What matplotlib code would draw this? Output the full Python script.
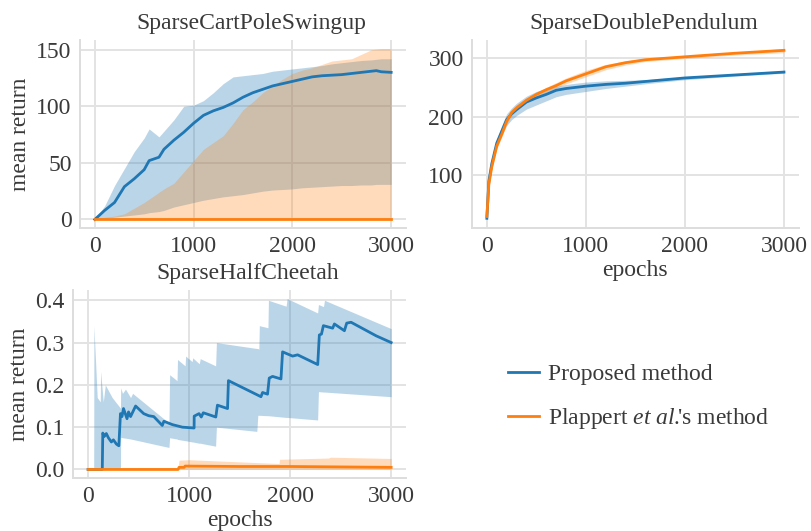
# learning curves, proposed method vs Plappert et al.
import numpy as np
import matplotlib
matplotlib.use('Agg')
import matplotlib.pyplot as plt

plt.rcParams['font.family'] = ['Liberation Serif', 'DejaVu Serif']
plt.rcParams['mathtext.fontset'] = 'custom'
plt.rcParams['mathtext.rm'] = 'Liberation Serif'
plt.rcParams['mathtext.it'] = 'Liberation Serif:italic'
plt.rcParams['font.size'] = 17
plt.rcParams['text.color'] = '#3a3a3a'
plt.rcParams['axes.labelcolor'] = '#3a3a3a'
plt.rcParams['xtick.color'] = '#3a3a3a'
plt.rcParams['ytick.color'] = '#3a3a3a'

BLUE = '#1f77b4'
ORANGE = '#ff7f0e'

# ---- SparseCartPoleSwingup ----
cp_x = [0, 100, 200, 300, 400, 500, 550, 650, 700, 800, 900, 1000, 1100, 1200, 1300,
        1400, 1500, 1600, 1700, 1800, 1900, 2000, 2100, 2200, 2300, 2400, 2500, 2600,
        2700, 2800, 2850, 2900, 3000]
cp_prop = [0, 8, 15, 29, 36, 44, 52, 55, 62, 70, 77, 85, 92, 96, 99,
           103, 108, 112, 115, 118, 120, 122, 124, 126, 127, 127.5, 128, 129,
           130, 131, 131.5, 130.5, 130]
cp_prop_lo = [0, 1, 2, 3, 4, 5, 6, 7, 8, 11, 13, 15, 17, 18.5, 20,
              21, 22, 23.5, 25, 26, 26.5, 27, 28, 28.5, 29, 29.5, 30, 30, 30.5,
              30.5, 31, 31, 31]
cp_prop_hi = [0, 12, 30, 45, 60, 72, 80, 73, 78, 88, 100, 101, 105, 112, 120,
              126, 127, 128, 129, 131, 132, 133, 134, 135, 136, 137.5, 138.5, 139.5,
              140.5, 141, 141.5, 142, 142]
cp_plap = [0] * len(cp_x)
cp_plap_lo = [0] * len(cp_x)
cp_plap_hi = [0, 2, 3, 5, 10, 15, 18, 24, 27, 32, 42, 52, 62, 68, 74,
              85, 97, 104, 112, 118, 124, 129, 132, 134, 137, 140, 141, 142,
              146, 150, 150.5, 151, 151]

# ---- SparseDoublePendulum ----
dp_x = [0, 20, 50, 100, 150, 200, 250, 300, 400, 500, 600, 700, 800, 1000, 1200,
        1400, 1600, 2000, 2500, 3000]
dp_prop = [27, 90, 120, 155, 175, 195, 205, 212, 225, 232, 238, 245, 248, 252, 255,
           257, 260, 266, 271, 276]
dp_prop_lo = [25, 82, 112, 148, 168, 185, 195, 202, 213, 220, 227, 234, 238, 243, 248,
              252, 256, 263, 269, 274]
dp_prop_hi = [29, 98, 128, 162, 185, 205, 215, 223, 235, 243, 248, 252, 255, 259, 261,
              262, 263, 268, 273, 278]
dp_plap = [30, 85, 115, 150, 170, 192, 207, 215, 228, 238, 246, 253, 261, 273, 285,
           292, 297, 302, 308, 313]
dp_plap_lo = [28, 80, 110, 145, 165, 187, 202, 210, 224, 234, 242, 249, 256, 268, 280,
              288, 294, 299, 305, 309]
dp_plap_hi = [32, 90, 120, 155, 175, 197, 212, 220, 232, 242, 250, 258, 266, 279, 289,
              295, 299, 304, 310, 316]

# ---- SparseHalfCheetah ----
hc_x = [0, 140, 145, 160, 180, 200, 230, 250, 280, 304, 320, 335, 350, 385, 400,
        420, 430, 470, 550, 600, 650, 734, 750, 834, 933, 1049, 1050, 1098, 1120,
        1140, 1264, 1280, 1380, 1389, 1711, 1727, 1776, 1793, 1826, 1909, 1925,
        2024, 2074, 2273, 2289, 2310, 2329, 2421, 2438, 2537, 2560, 2603, 2851, 3000]
hc_prop = [0, 0, 0.086, 0.078, 0.085, 0.075, 0.065, 0.07, 0.06, 0.056, 0.132, 0.125,
           0.144, 0.12, 0.136, 0.125, 0.13, 0.15, 0.132, 0.127, 0.125, 0.104, 0.114,
           0.106, 0.10, 0.098, 0.126, 0.132, 0.124, 0.134, 0.124, 0.152, 0.144, 0.21,
           0.172, 0.182, 0.178, 0.216, 0.22, 0.214, 0.278, 0.268, 0.271, 0.248, 0.318,
           0.32, 0.34, 0.334, 0.344, 0.328, 0.346, 0.348, 0.316, 0.30]
hc_band_x = [0, 55, 57, 90, 120, 123, 150, 170, 238, 320, 322, 340, 370, 420, 440,
             800, 807, 880, 885, 960, 965, 1030, 1035, 1100, 1110, 1262, 1270, 1670,
             1680, 1690, 1695, 1780, 1785, 1960, 1970, 2272, 2280, 2330, 2340, 3000]
hc_prop_lo = [0, 0, 0, 0, 0, 0, 0, 0, 0, 0, 0.076, 0.075, 0.074, 0.072, 0.071,
              0.052, 0.075, 0.072, 0.071, 0.068, 0.068, 0.065, 0.065, 0.062, 0.062,
              0.055, 0.1, 0.09, 0.128, 0.128, 0.128, 0.127, 0.127, 0.123, 0.123,
              0.117, 0.184, 0.183, 0.183, 0.172]
hc_prop_hi = [0, 0, 0.34, 0.17, 0.16, 0.232, 0.16, 0.2, 0.17, 0.145, 0.193, 0.18,
              0.19, 0.17, 0.18, 0.11, 0.224, 0.21, 0.26, 0.245, 0.268, 0.255, 0.264,
              0.25, 0.262, 0.245, 0.30, 0.286, 0.286, 0.284, 0.34, 0.335, 0.40, 0.386,
              0.404, 0.37, 0.39, 0.385, 0.40, 0.333]
hc_plap_x = [0, 890, 900, 950, 960, 1500, 2000, 2500, 3000]
hc_plap = [0, 0, 0.005, 0.005, 0.008, 0.007, 0.007, 0.006, 0.005]
hc_plap_band_x = [0, 400, 500, 890, 900, 1000, 1890, 1895, 2380, 2400, 3000]
hc_plap_lo = [0] * len(hc_plap_band_x)
hc_plap_hi = [0, 0, 0.004, 0.004, 0.022, 0.023, 0.014, 0.024, 0.027, 0.029, 0.026]

labels = ['Proposed method', r"Plappert $\it{et\ al.}\!\!$'s method"]


def style(ax):
    ax.set_facecolor('white')
    ax.grid(True, color='#e3e3e3', linewidth=1.4)
    ax.set_axisbelow(True)
    for s in ['top', 'right']:
        ax.spines[s].set_visible(False)
    for s in ['left', 'bottom']:
        ax.spines[s].set_color('#dddddd')
        ax.spines[s].set_linewidth(1.4)
    ax.tick_params(length=0, pad=6)
    ax.set_xticks([0, 1000, 2000, 3000])


fig = plt.figure(figsize=(8.11, 5.31), dpi=100)
ax1 = fig.add_axes([0.0986, 0.5706, 0.402, 0.354])
ax2 = fig.add_axes([0.582, 0.5706, 0.403, 0.354])
ax3 = fig.add_axes([0.090, 0.0998, 0.411, 0.354])

# cart pole
ax1.fill_between(cp_x, cp_prop_lo, cp_prop_hi, color=BLUE, alpha=0.3, linewidth=0)
ax1.fill_between(cp_x, cp_plap_lo, cp_plap_hi, color=ORANGE, alpha=0.28, linewidth=0)
ax1.plot(cp_x, cp_prop, color=BLUE, lw=2)
ax1.plot(cp_x, cp_plap, color=ORANGE, lw=2)
ax1.set_title('SparseCartPoleSwingup', fontsize=17, pad=8, x=0.525)
ax1.set_yticks([0, 50, 100, 150])
ax1.set_ylabel('mean return')
style(ax1)

# double pendulum
ax2.fill_between(dp_x, dp_prop_lo, dp_prop_hi, color=BLUE, alpha=0.3, linewidth=0)
ax2.fill_between(dp_x, dp_plap_lo, dp_plap_hi, color=ORANGE, alpha=0.28, linewidth=0)
ax2.plot(dp_x, dp_prop, color=BLUE, lw=2)
ax2.plot(dp_x, dp_plap, color=ORANGE, lw=2)
ax2.set_title('SparseDoublePendulum', fontsize=17, pad=8, x=0.525)
ax2.set_yticks([100, 200, 300])
ax2.set_xlabel('epochs', labelpad=2)
style(ax2)

# half cheetah
ax3.fill_between(hc_band_x, hc_prop_lo, hc_prop_hi, color=BLUE, alpha=0.3, linewidth=0)
ax3.fill_between(hc_plap_band_x, hc_plap_lo, hc_plap_hi, color=ORANGE, alpha=0.28, linewidth=0)
ax3.plot(hc_x, hc_prop, color=BLUE, lw=2, label=labels[0])
ax3.plot(hc_plap_x, hc_plap, color=ORANGE, lw=2, label=labels[1])
ax3.set_title('SparseHalfCheetah', fontsize=17, pad=8, x=0.525)
ax3.set_yticks([0.0, 0.1, 0.2, 0.3, 0.4])
ax3.set_ylabel('mean return')
ax3.set_xlabel('epochs', labelpad=2)
style(ax3)

handles, labs = ax3.get_legend_handles_labels()
fig.legend(handles, labs, loc='center left', bbox_to_anchor=(0.6, 0.252),
           frameon=False, fontsize=17, handlelength=1.3, handletextpad=0.4,
           labelspacing=0.9)

plt.savefig('out.png', dpi=100)
